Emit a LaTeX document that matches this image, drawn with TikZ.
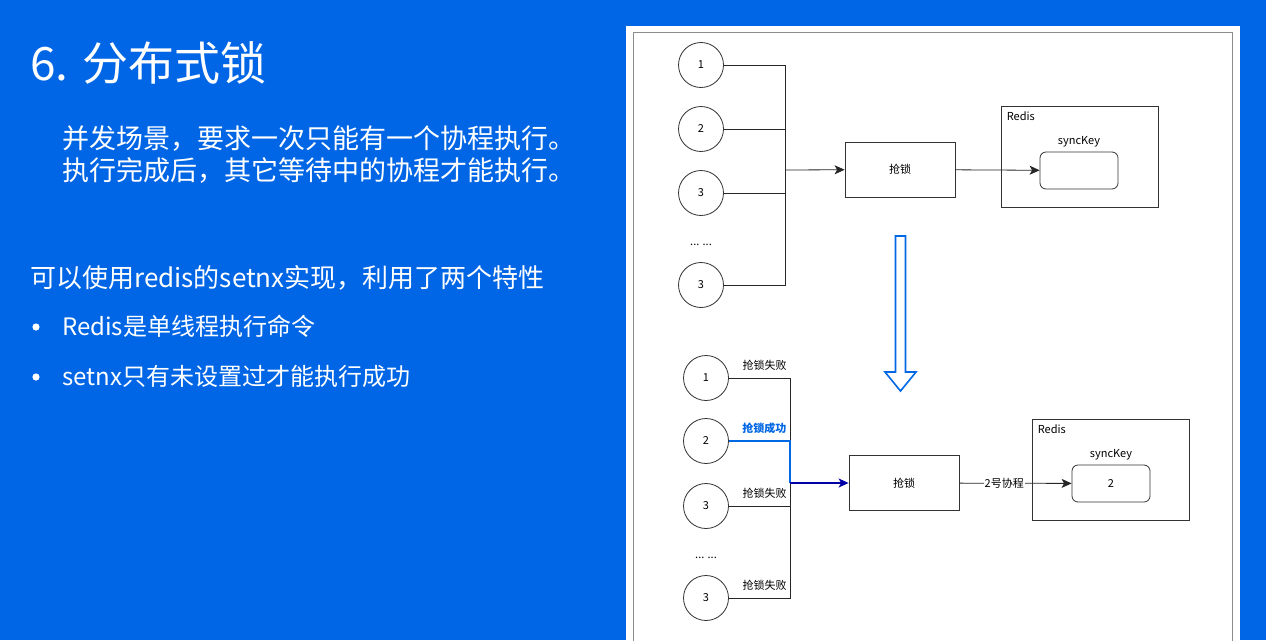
\documentclass[tikz,border=0pt]{standalone}
\usepackage{fontspec}
\setmainfont{Noto Sans CJK SC}
\usetikzlibrary{arrows.meta,positioning,calc}

\begin{document}
\begin{tikzpicture}[x=1pt,y=-1pt,>={Stealth[length=10pt,width=9pt,inset=2.5pt]}]
      % draw.io like classic heads set above
      \definecolor{slideblue}{RGB}{0,102,230}
      \colorlet{wiregray}{black!85}
      \colorlet{okblue}{blue!55!cyan!90!black}
      \colorlet{arrowblue}{blue!65!black}

      \tikzset{
        proc/.style={circle,draw=black!80,line width=.8,minimum size=45,inner sep=0,font=\fontsize{11}{13}\selectfont},
        lockbox/.style={draw=black!80,line width=.8,minimum width=110,minimum height=55,font=\fontsize{11}{13}\selectfont},
        redisbox/.style={draw=black!80,line width=.8,minimum width=157,minimum height=101},
        keybox/.style={draw=black!80,line width=.8,rounded corners=6,minimum width=78,minimum height=37,font=\fontsize{11}{13}\selectfont},
        small/.style={font=\fontsize{11}{13}\selectfont,inner sep=1},
        state/.style={font=\fontsize{11}{13}\selectfont,inner sep=0,pos=.5,anchor=south east,xshift=-3,yshift=7},
        wire/.style={wiregray,line width=.8},
        okwire/.style={okblue,line width=1.3},
        slidetext/.style={white,anchor=base west,inner sep=0}
      }

      \useasboundingbox (0,0) rectangle (1266,640);

      % SLIDE
      \fill[slideblue] (0,0) rectangle (1266,640);
      \node[slidetext,font=\fontsize{46}{50}\selectfont] (title) at (30,80) {6. 分布式锁};
      \node[slidetext,font=\fontsize{27}{32}\selectfont] (intro1) at (62,148) {并发场景，要求一次只能有一个协程执行。};
      \node[slidetext,font=\fontsize{27}{32}\selectfont] (intro2) at (62,180) {执行完成后，其它等待中的协程才能执行。};
      \node[slidetext,font=\fontsize{26}{30}\selectfont] (usage) at (30,287) {可以使用redis的setnx实现，利用了两个特性};
      \node[slidetext,font=\fontsize{24}{28}\selectfont] (item1) at (62,335) {Redis是单线程执行命令};
      \node[slidetext,font=\fontsize{24}{28}\selectfont] (item2) at (62,385) {setnx只有未设置过才能执行成功};
      \fill[white] (36,327) circle(3.6) (36,377) circle(3.6);

      % PANEL
      \fill[white] (626,26) rectangle (1240,640);
      \draw[black!45,line width=.8] (633,32) rectangle (1232,650);

      % BEFORE: ALL COROUTINES TRY THE LOCK
      \node[proc] (t1) at (701,65) {1};
      \node[proc] (t2) at (701,129) {2};
      \node[proc] (t3) at (701,193) {3};
      \node[small] (tdots) at (701,245) {... ...};
      \node[proc] (t4) at (701,285) {3};
      \coordinate (tbus) at (785,170);
      \node[lockbox] (tlock) at (900,169.5) {抢锁};
      \node[redisbox] (tredis) at (1079.5,156.5) {};
      \node[small,anchor=north west] (tredislbl) at ($(tredis.north west)+(5,5)$) {Redis};
      \node[keybox] (tkey) at (1079,170.5) {};
      \node[small,anchor=south] (tkeylbl) at ($(tkey.north)+(0,-3)$) {syncKey};

      \foreach \c in {t1,t2,t3,t4}
      \draw[wire] (\c.east) -| (tbus);
      \draw[wire,->] (tbus) -- (tlock);
      \draw[wire,->] (tlock) -- (tkey);

      % STEP ARROW
      \draw[okblue,line width=1.6,fill=white,line join=miter]
      (895.5,236) -- (905.5,236) -- (905.5,372) -- (916,372) -- (900.5,391)
      -- (885,372) -- (895.5,372) -- cycle;

      % AFTER: ONLY COROUTINE 2 GETS IT
      \node[proc] (b1) at (706,378) {1};
      \node[proc] (b2) at (706,441) {2};
      \node[proc] (b3) at (706,506) {3};
      \node[small] (bdots) at (706,558) {... ...};
      \node[proc] (b4) at (706,598) {3};
      \coordinate (bbus) at (790,483);
      \node[lockbox] (block) at (904,483) {抢锁};
      \node[redisbox] (bredis) at (1110.5,469.5) {};
      \node[small,anchor=north west] (bredislbl) at ($(bredis.north west)+(5,5)$) {Redis};
      \node[keybox] (bkey) at (1111,483.5) {2};
      \node[small,anchor=south] (bkeylbl) at ($(bkey.north)+(0,-3)$) {syncKey};

      \draw[wire] (b1.east) -| (bbus) node[state,text=black] (b1lbl) {抢锁失败};
      \draw[wire] (b3.east) -| (bbus) node[state,text=black] (b3lbl) {抢锁失败};
      \draw[wire] (b4.east) -| (bbus) node[state,text=black] (b4lbl) {抢锁失败};
      \draw[okwire] (b2.east) -| (bbus) node[state,text=okblue,font=\fontsize{11}{13}\bfseries] (b2lbl) {抢锁成功};
      \draw[arrowblue,line width=1.3,->] (bbus) -- (block);
      \draw[wire,->] (block) -- (bkey) node[small,pos=.4,fill=white,text=black] (owner) {2号协程};

\end{tikzpicture}
\end{document}
